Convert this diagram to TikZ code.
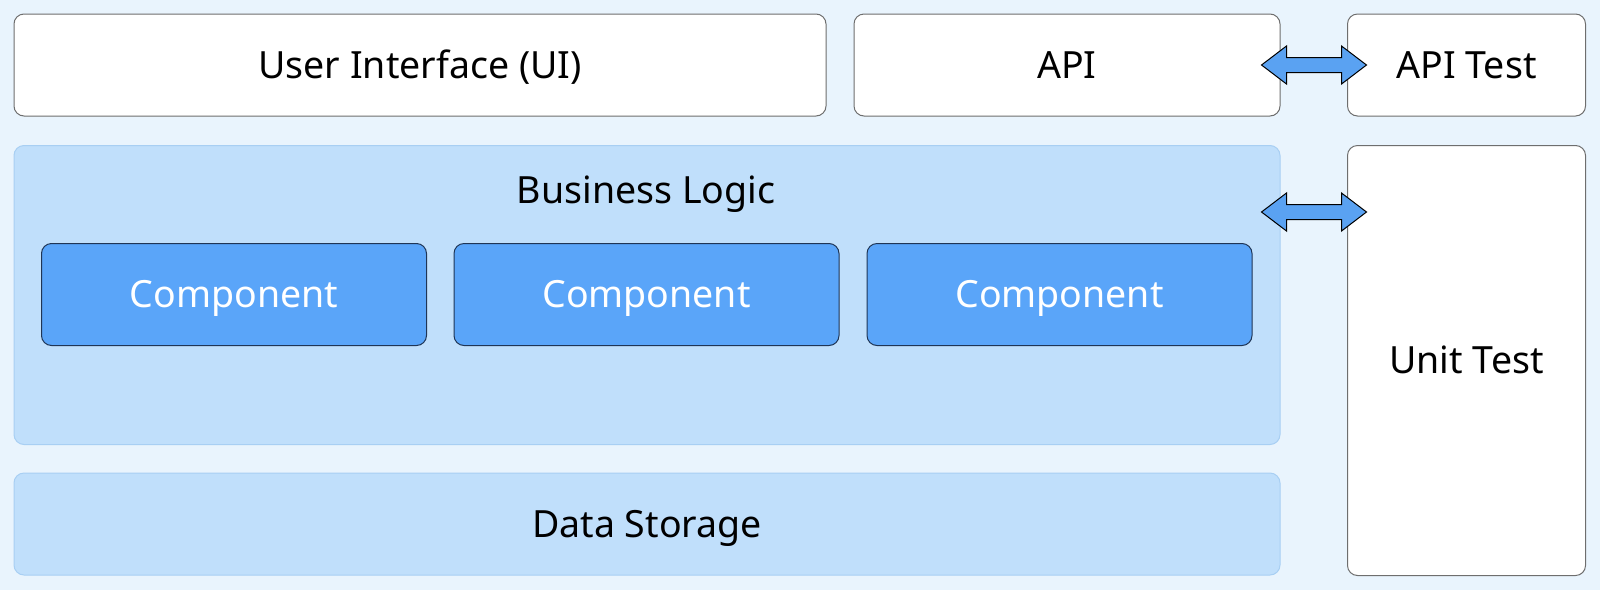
\documentclass[tikz,border=0pt]{standalone}
\usepackage{fontspec}
\setmainfont{Noto Sans}
\usetikzlibrary{calc}
\definecolor{bgc}{HTML}{E9F4FD}
\definecolor{lightfill}{HTML}{C0DFFB}
\definecolor{lightedge}{HTML}{A8CFF3}
\definecolor{compfill}{HTML}{5AA5F9}
\definecolor{compedge}{HTML}{1F3555}
\definecolor{whiteedge}{HTML}{6E6E6E}
\definecolor{arrowfill}{HTML}{5AA2F2}
\tikzset{
  lbl/.style={font=\fontsize{37.5}{40}\selectfont, text height=26pt, text depth=0pt},
  box/.style={rounded corners=10pt, line width=1pt, inner sep=0pt, lbl, text=black},
  whitebox/.style={box, draw=whiteedge, fill=white},
  lightbox/.style={box, draw=lightedge, fill=lightfill},
  compbox/.style={box, draw=compedge, fill=compfill, text=white},
  fatarrow/.style={draw=black, line width=1pt, fill=arrowfill, line join=miter}
}
\begin{document}
\begin{tikzpicture}[x=1pt,y=-1pt]
\fill[bgc] (0,0) rectangle (1600,590);
\useasboundingbox (0,0) rectangle (1600,590);
% top row
\node[whitebox, minimum width=812pt, minimum height=102pt, anchor=north west] (ui) at (13.5,13.5) {User Interface (UI)};
\node[whitebox, minimum width=426pt, minimum height=102pt, anchor=north west] (api) at (853.5,13.5) {API};
\node[whitebox, minimum width=238pt, minimum height=102pt, anchor=north west] (apitest) at (1347,13.5) {API Test};
% business logic
\node[lightbox, minimum width=1266pt, minimum height=299pt, anchor=north west] (bl) at (13.5,145) {};
\node[lbl, anchor=center] (bltitle) at (646,190) {Business Logic};
\node[compbox, minimum width=385pt, minimum height=102pt, anchor=north west] (c1) at (41,243) {Component};
\node[compbox, minimum width=385pt, minimum height=102pt, anchor=north west] (c2) at (453.5,243) {Component};
\node[compbox, minimum width=385pt, minimum height=102pt, anchor=north west] (c3) at (866.5,243) {Component};
% data storage
\node[lightbox, minimum width=1266pt, minimum height=102pt, anchor=north west] (ds) at (13.5,472.5) {Data Storage};
% unit test
\node[whitebox, minimum width=238pt, minimum height=430pt, anchor=north west] (ut) at (1347,145) {Unit Test};
% arrows
\draw[fatarrow] ($(api.east)+(-19,0)$) -- ++(25,-19) -- ++(0,11.5) -- ++(55,0) -- ++(0,-11.5) -- ++(25,19) -- ++(-25,19) -- ++(0,-11.5) -- ++(-55,0) -- ++(0,11.5) -- cycle;
\draw[fatarrow] ($(bl.north east)+(-19,67)$) -- ++(25,-19) -- ++(0,11.5) -- ++(55,0) -- ++(0,-11.5) -- ++(25,19) -- ++(-25,19) -- ++(0,-11.5) -- ++(-55,0) -- ++(0,11.5) -- cycle;
\end{tikzpicture}
\end{document}
